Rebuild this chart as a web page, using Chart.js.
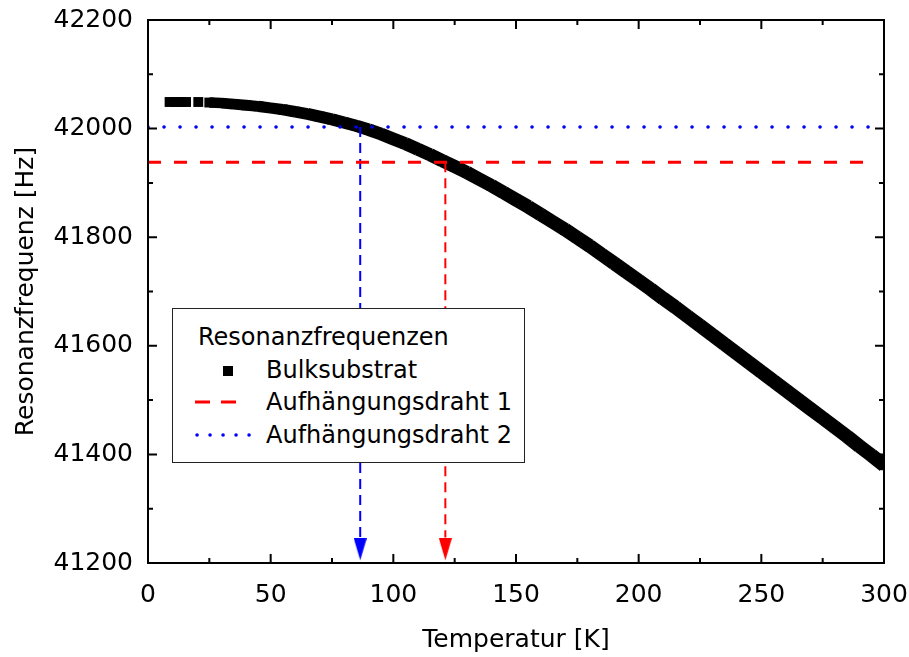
<!DOCTYPE html>
<html>
<head>
<meta charset="utf-8">
<script src="https://cdn.jsdelivr.net/npm/chart.js@4.4.1/dist/chart.umd.min.js"></script>
<style>
  body { margin: 0; background: #fff; }
  #wrap { position: relative; width: 909px; height: 657px; }
  #legend {
    position: absolute; left: 172px; top: 308px; width: 353px; height: 155px;
    box-sizing: border-box; border: 1.5px solid #222; background: #fff;
    font-family: "DejaVu Sans", sans-serif; font-size: 24px; line-height: 24px; color: #000;
  }
  #legend span { position: absolute; white-space: nowrap; }
  #legend svg { position: absolute; left: 0; top: 0; }
</style>
</head>
<body>
<div id="wrap">
  <canvas id="freqChart" width="909" height="657"></canvas>
  <div id="legend">
    <svg width="350" height="152">
      <rect x="50" y="57" width="10" height="10" fill="#000"></rect>
      <line x1="22" y1="93" x2="66" y2="93" stroke="#ff0000" stroke-width="3" stroke-dasharray="15 11"></line>
      <line x1="24" y1="126" x2="78" y2="126" stroke="#0000ff" stroke-width="3.5" stroke-linecap="round" stroke-dasharray="0.1 12.9"></line>
    </svg>
    <span style="left:25px; top:16px;">Resonanzfrequenzen</span>
    <span style="left:93px; top:49px;">Bulksubstrat</span>
    <span style="left:93px; top:81px;">Aufhängungsdraht 1</span>
    <span style="left:93px; top:114px;">Aufhängungsdraht 2</span>
  </div>
</div>
<script>
// Resonanzfrequenz des Bulksubstrats über der Temperatur
const temps = [8.8, 12, 15.5, 18, 20.5, 23,
    25, 30, 35, 40, 45, 50, 55, 60, 65, 70, 75, 80, 85, 90, 95, 100,
    105, 110, 115, 120, 125, 130, 135, 140, 145, 150, 155, 160, 165, 170,
    175, 180, 185, 190, 195, 200, 205, 210, 215, 220, 225, 230, 235, 240,
    245, 250, 255, 260, 265, 270, 275, 280, 285, 290, 295, 300];
const freqs = [42049, 42049, 42049, null, 42049, null,
    42048, 42047, 42045, 42043, 42041, 42038, 42035, 42031, 42027, 42022, 42017, 42011, 42005, 41998, 41990, 41981,
    41972, 41962, 41952, 41941, 41930, 41919, 41907, 41895, 41882, 41869, 41856, 41842, 41828, 41814,
    41799, 41784, 41768, 41752, 41736, 41720, 41704, 41687, 41671, 41654, 41637, 41620, 41603, 41586,
    41569, 41552, 41535, 41518, 41501, 41484, 41467, 41450, 41433, 41415, 41398, 41380];

// Aufhängungsdrähte: Frequenz und zugehörige Temperatur
const wire1Freq = 41938;
const wire1Temp = 121.2;
const wire2Freq = 42003;
const wire2Temp = 86.5;
const lineStart = 0;
const wire1LineEnd = 292.5;
const wire2LineEnd = 298;
const arrowTopFreq = 41247;
const arrowTipFreq = 41205;

const xTicks = { min: 0, max: 300, step: 50 };
const yTicks = { min: 41200, max: 42200, step: 200 };

const bulkData = temps.map((t, i) => ({ x: t, y: freqs[i] }));

function arrowHead(color) {
    // tip sits in the middle of the canvas, so the point value is the arrow tip
    const c = document.createElement("canvas");
    c.width = 13;
    c.height = 44;
    const g = c.getContext("2d");
    g.fillStyle = color;
    g.beginPath();
    g.moveTo(0, 0);
    g.lineTo(13, 0);
    g.lineTo(6.5, 22);
    g.closePath();
    g.fill();
    return c;
}

// frame with inward major/minor ticks on all four sides
const frameTicks = {
    id: "frameTicks",
    afterDatasetsDraw(chart) {
        const { ctx, chartArea: a, scales: { x, y } } = chart;
        ctx.save();
        ctx.strokeStyle = "#000";
        ctx.lineWidth = 2;
        ctx.beginPath();

        const xs = x.ticks.map(t => t.value);
        for (let i = 0; i < xs.length; i++) {
            const px = x.getPixelForValue(xs[i]);
            ctx.moveTo(px, a.bottom); ctx.lineTo(px, a.bottom - 9);
            ctx.moveTo(px, a.top); ctx.lineTo(px, a.top + 9);
            if (i < xs.length - 1) {
                const mx = x.getPixelForValue((xs[i] + xs[i + 1]) / 2);
                ctx.moveTo(mx, a.bottom); ctx.lineTo(mx, a.bottom - 5);
                ctx.moveTo(mx, a.top); ctx.lineTo(mx, a.top + 5);
            }
        }

        const ys = y.ticks.map(t => t.value);
        for (let i = 0; i < ys.length; i++) {
            const py = y.getPixelForValue(ys[i]);
            ctx.moveTo(a.left, py); ctx.lineTo(a.left + 9, py);
            ctx.moveTo(a.right, py); ctx.lineTo(a.right - 9, py);
            if (i < ys.length - 1) {
                const my = y.getPixelForValue((ys[i] + ys[i + 1]) / 2);
                ctx.moveTo(a.left, my); ctx.lineTo(a.left + 5, my);
                ctx.moveTo(a.right, my); ctx.lineTo(a.right - 5, my);
            }
        }
        ctx.stroke();
        ctx.strokeRect(a.left, a.top, a.right - a.left, a.bottom - a.top);
        ctx.restore();
    }
};

const squareSide = 10;
const axisFont = { family: "DejaVu Sans", size: 25 };

new Chart(document.getElementById("freqChart"), {
    type: "scatter",
    data: {
        datasets: [
            {
                label: "Aufhängungsdraht 2",
                data: [{ x: lineStart, y: wire2Freq }, { x: wire2LineEnd, y: wire2Freq }],
                showLine: true,
                borderColor: "#0000ff",
                borderWidth: 3.5,
                borderDash: [0.1, 15.9],
                borderCapStyle: "round",
                pointRadius: 0
            },
            {
                label: "Aufhängungsdraht 1",
                data: [{ x: lineStart, y: wire1Freq }, { x: wire1LineEnd, y: wire1Freq }],
                showLine: true,
                borderColor: "#ff0000",
                borderWidth: 3,
                borderDash: [13, 13],
                pointRadius: 0
            },
            {
                label: "T2",
                data: [{ x: wire2Temp, y: wire2Freq }, { x: wire2Temp, y: arrowTopFreq }],
                showLine: true,
                borderColor: "#0000ff",
                borderWidth: 2,
                borderDash: [10, 6],
                pointRadius: 0
            },
            {
                label: "T1",
                data: [{ x: wire1Temp, y: wire1Freq }, { x: wire1Temp, y: arrowTopFreq }],
                showLine: true,
                borderColor: "#ff0000",
                borderWidth: 2,
                borderDash: [10, 6],
                pointRadius: 0
            },
            {
                label: "T2 Pfeil",
                data: [{ x: wire2Temp, y: arrowTipFreq }],
                pointStyle: arrowHead("#0000ff"),
                pointRadius: 1,
                clip: false
            },
            {
                label: "T1 Pfeil",
                data: [{ x: wire1Temp, y: arrowTipFreq }],
                pointStyle: arrowHead("#ff0000"),
                pointRadius: 1,
                clip: false
            },
            {
                label: "Bulksubstrat",
                data: bulkData,
                showLine: true,
                spanGaps: false,
                borderColor: "#000",
                backgroundColor: "#000",
                borderWidth: squareSide,
                borderCapStyle: "butt",
                borderJoinStyle: "round",
                // a band of squares gets wider where the curve is steep
                segment: {
                    borderWidth: ctx => {
                        const dx = Math.abs(ctx.p1.x - ctx.p0.x);
                        const dy = Math.abs(ctx.p1.y - ctx.p0.y);
                        return squareSide * (dx + dy) / Math.hypot(dx, dy);
                    }
                },
                pointStyle: "rect",
                pointRadius: 7,
                pointBorderWidth: 0,
                pointBackgroundColor: "#000",
                clip: 0
            }
        ]
    },
    options: {
        responsive: false,
        animation: false,
        layout: {
            padding: { left: 0, right: 25, top: 20, bottom: 0 }
        },
        plugins: {
            legend: { display: false },
            tooltip: { enabled: false }
        },
        scales: {
            x: {
                type: "linear",
                min: xTicks.min,
                max: xTicks.max,
                grid: { display: false, drawTicks: false },
                border: { display: false },
                ticks: {
                    stepSize: xTicks.step,
                    padding: 17,
                    color: "#000",
                    font: axisFont
                },
                title: {
                    display: true,
                    text: "Temperatur [K]",
                    color: "#000",
                    font: axisFont,
                    padding: { top: 0, bottom: 2 }
                },
                afterFit(scale) {
                    scale.height = 94;
                    scale.paddingLeft = 0;
                    scale.paddingRight = 0;
                }
            },
            y: {
                type: "linear",
                min: yTicks.min,
                max: yTicks.max,
                grid: { display: false, drawTicks: false },
                border: { display: false },
                ticks: {
                    stepSize: yTicks.step,
                    padding: 15,
                    color: "#000",
                    font: axisFont,
                    callback: v => String(v)
                },
                title: {
                    display: true,
                    text: "Resonanzfrequenz [Hz]",
                    color: "#000",
                    font: axisFont,
                    padding: { top: 11, bottom: 0 }
                },
                afterFit(scale) {
                    scale.width = 148;
                    scale.paddingTop = 0;
                    scale.paddingBottom = 0;
                }
            }
        }
    },
    plugins: [frameTicks]
});
</script>
</body>
</html>
